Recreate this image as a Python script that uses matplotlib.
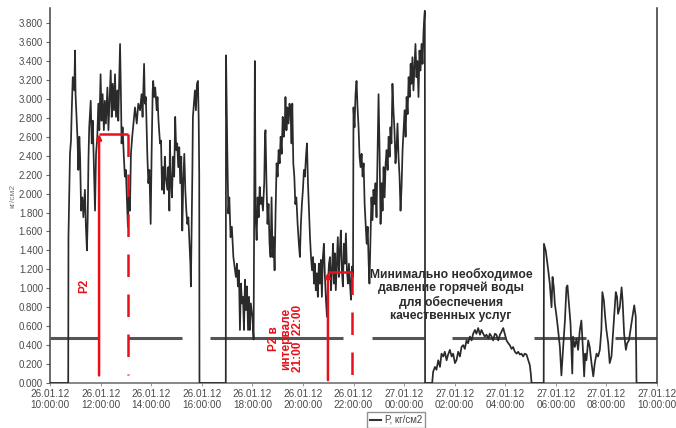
import matplotlib
matplotlib.use("Agg")
import matplotlib.pyplot as plt
from matplotlib.lines import Line2D

plt.rcParams['font.family'] = ['Liberation Sans', 'DejaVu Sans']

# ---- data: hours after 26.01.12 10:00, pressure kgf/cm2 ----
seg_a = [(0.00,0.00),(0.72,0.00),(0.73,1.54),(0.79,2.42),(0.83,2.56),(0.86,2.88),(0.90,3.23),(0.96,3.09),(0.99,3.51),(1.01,3.05),(1.05,2.81),(1.09,2.56),(1.12,2.25),(1.16,2.60),(1.19,2.39),(1.23,1.82),(1.28,1.96),(1.32,1.75),(1.38,2.04),(1.42,1.65),(1.46,1.40),(1.49,1.72),(1.52,2.35),(1.55,2.70),(1.61,2.98),(1.65,2.53),(1.69,2.77),(1.74,2.25),(1.78,1.82),(1.82,2.42),(1.87,2.60),(1.91,2.95),(1.95,2.67),(2.00,3.26),(2.04,2.77),(2.08,3.05),(2.13,2.67),(2.17,2.98),(2.21,2.74),(2.27,3.12),(2.31,2.67),(2.35,2.95),(2.40,3.30),(2.44,2.81),(2.48,3.16),(2.53,2.88),(2.57,3.26),(2.61,2.81),(2.66,3.09),(2.70,2.77),(2.77,3.58),(2.81,2.95),(2.83,2.53),(2.87,2.70),(2.92,2.39),(2.96,2.18),(3.00,2.25),(3.04,1.96),(3.08,1.65),(3.12,2.04),(3.16,1.82),(3.20,2.42),(3.25,2.60),(3.31,2.77),(3.36,2.91),(3.43,2.74),(3.49,2.95),
         (3.56,2.88),(3.62,3.05),(3.66,2.81),(3.72,3.37),(3.75,2.95),(3.79,3.02),(3.82,2.70),(3.85,2.39),(3.89,2.11),(3.93,2.25),(3.98,1.68),(4.02,2.46),(4.06,3.09),(4.08,3.19),(4.12,3.02),(4.16,3.12),(4.22,2.88),(4.25,3.02),(4.29,2.77),(4.35,2.53),(4.39,2.56),(4.43,2.04),(4.47,2.28),(4.51,2.00),(4.54,2.39),(4.58,2.18),(4.64,2.04),(4.68,2.28),(4.72,1.82),(4.74,2.56),(4.78,2.14),(4.82,1.96),(4.87,2.39),(4.91,2.18),(4.95,2.81),(4.99,2.46),(5.03,2.53),(5.07,2.28),(5.11,2.49),(5.15,2.11),(5.19,2.39),(5.23,1.61),(5.27,2.14),(5.31,2.42),(5.35,2.04),(5.39,1.82),(5.43,1.68),(5.47,1.75),(5.51,1.51),(5.55,1.26),(5.57,1.02),(5.60,1.61),(5.63,2.25),(5.65,2.81),(5.69,2.95),(5.73,3.09),(5.77,2.88),(5.81,3.16),(5.85,3.19),(5.88,2.77),(5.90,2.21),(5.91,0.00)]

seg_b = [(6.95,0.00),(6.96,3.46),(7.01,2.46),(7.05,1.79),(7.09,1.96),(7.14,1.54),(7.19,1.65),(7.25,1.33),(7.35,1.12),(7.39,1.26),(7.43,1.02),(7.47,1.19),(7.51,0.56),(7.55,1.05),(7.59,0.84),(7.63,0.91),(7.67,0.56),(7.71,1.09),(7.75,0.77),(7.79,1.02),(7.83,0.56),(7.87,0.91),(7.90,0.56),(7.94,0.84),(8.00,0.70),(8.05,0.46),(8.10,3.40),(8.13,1.75),(8.17,1.51),(8.21,1.96),(8.25,1.75),(8.29,2.07),(8.33,1.89),(8.37,1.96),(8.42,1.82),(8.47,2.11),(8.50,2.60),(8.52,2.67),(8.56,2.11),(8.60,1.68),(8.64,1.89),(8.68,1.47),(8.72,1.33),(8.76,1.96),(8.80,1.33),(8.84,1.54),(8.88,1.19),(8.92,1.82),(8.96,2.32),(9.00,2.18),(9.04,2.46),(9.08,2.32),(9.12,2.60),(9.16,2.42),(9.20,2.81),(9.24,2.60),(9.28,2.70),(9.31,3.02),(9.35,2.67),(9.39,2.91),(9.43,2.74),(9.47,2.95),(9.51,2.88),(9.55,2.53),(9.58,2.95),(9.62,2.32),(9.66,2.18),(9.70,1.89),(9.74,1.96),(9.79,1.68),(9.84,1.47),(9.88,1.33),(9.92,1.68),(9.96,1.89),(10.00,2.04),(10.04,2.25),(10.08,2.18),(10.12,2.39),(10.16,2.53),(10.20,2.11),(10.24,1.82),(10.28,1.54),(10.32,1.33),(10.36,1.19),(10.40,1.33),(10.44,1.05),(10.47,1.26),(10.51,0.98),(10.55,1.16),(10.59,0.91),(10.63,1.26),(10.67,1.05),(10.71,1.30),(10.75,0.91),(10.79,1.33),(10.83,1.47),(10.87,1.12),(10.91,0.88),(10.95,0.70),(10.99,1.05),(11.03,1.26),
         (11.07,1.33),(11.11,0.98),(11.15,1.19),(11.19,1.47),(11.23,1.05),(11.26,1.37),(11.30,0.98),(11.34,1.26),(11.38,1.54),(11.42,1.12),(11.46,1.40),(11.50,1.61),(11.54,1.19),(11.58,1.02),(11.62,1.47),(11.66,1.26),(11.70,1.58),(11.74,1.19),(11.78,1.05),(11.82,1.26),(11.86,1.05),(11.90,0.88),(11.94,1.23),(11.98,1.12),(12.00,2.91),(12.04,2.70),(12.08,3.05),(12.12,3.19),(12.16,2.91),(12.20,2.70),(12.24,2.39),(12.28,2.28),(12.32,2.42),(12.36,2.18),(12.40,2.32),(12.44,1.89),(12.48,1.68),(12.52,1.47),(12.56,1.65),(12.60,1.26),(12.63,1.05),(12.67,1.51),(12.71,1.96),(12.75,1.72),(12.79,2.04),(12.83,1.89),(12.87,2.11),(12.91,1.75),(12.95,2.39),(12.99,3.05),(13.03,2.46),(13.07,1.68),(13.11,2.11),(13.15,1.82),(13.19,2.28),(13.23,1.96),(13.27,2.32),(13.31,2.46),(13.35,2.25),(13.39,2.60),(13.43,2.39),(13.46,2.70),(13.50,2.53),(13.54,3.16),(13.58,2.88),(13.62,2.67),(13.66,2.32),(13.70,2.46),(13.74,2.74),(13.78,2.39),(13.82,2.18),(13.86,1.82),(13.90,2.07),(13.94,2.46),(13.98,2.67),(14.02,2.88),(14.06,2.60),(14.10,3.02),(14.14,2.84),(14.18,3.23),(14.22,3.02),(14.26,3.37),(14.29,3.16),(14.33,3.44),(14.37,3.09),(14.41,3.33),(14.45,3.58),(14.49,3.23),(14.53,3.40),(14.57,3.02),(14.61,3.51),(14.65,3.30),(14.69,3.58),(14.73,3.37),(14.77,3.72),(14.80,3.86),(14.82,3.93),(14.83,0.00)]

seg_c = [(15.11,0.00),(15.15,0.12),(15.22,0.17),(15.28,0.14),(15.35,0.24),(15.42,0.17),(15.48,0.31),(15.55,0.28),(15.61,0.33),(15.68,0.24),(15.74,0.30),(15.81,0.35),(15.88,0.28),(15.94,0.31),(16.01,0.21),(16.07,0.24),(16.14,0.33),(16.21,0.28),(16.27,0.38),(16.34,0.40),(16.40,0.36),(16.47,0.45),(16.53,0.42),(16.60,0.49),(16.67,0.45),(16.73,0.52),(16.80,0.56),(16.86,0.52),(16.93,0.58),(17.00,0.51),(17.06,0.56),(17.13,0.52),(17.19,0.49),(17.26,0.51),(17.33,0.47),(17.39,0.52),(17.46,0.49),(17.52,0.45),(17.59,0.52),(17.65,0.51),(17.72,0.45),(17.79,0.51),(17.85,0.54),(17.92,0.58),(17.98,0.52),(18.05,0.45),(18.12,0.42),(18.18,0.40),(18.25,0.36),(18.31,0.38),(18.38,0.33),(18.45,0.31),(18.51,0.33),(18.58,0.30),(18.64,0.31),(18.71,0.28),(18.77,0.31),(18.84,0.30),(18.91,0.24),(18.97,0.19),(19.01,0.10),(19.04,0.00)]

seg_d = [(19.52,0.00),(19.53,1.47),(19.60,1.40),(19.70,1.19),(19.76,1.05),(19.83,0.80),(19.87,1.12),(19.92,1.01),(19.96,0.84),(20.03,0.70),(20.09,0.56),(20.16,0.38),(20.22,0.08),(20.29,0.38),(20.36,0.66),(20.42,1.01),(20.46,1.03),(20.53,0.80),(20.58,0.63),(20.65,0.10),(20.68,0.49),(20.75,0.38),(20.82,0.47),(20.88,0.35),(20.95,0.56),(21.01,0.66),(21.08,0.31),(21.12,0.07),(21.16,0.31),(21.21,0.24),(21.28,0.45),(21.34,0.38),(21.41,0.21),(21.48,0.07),(21.54,0.21),(21.61,0.31),(21.67,0.28),(21.74,0.35),(21.80,0.56),(21.84,0.96),(21.90,0.87),(21.95,0.70),(22.00,0.56),(22.07,0.42),(22.13,0.21),(22.20,0.28),(22.27,0.56),(22.33,0.80),(22.37,0.96),(22.42,0.91),(22.46,0.73),(22.53,0.80),(22.60,1.01),(22.64,0.87),(22.70,0.52),(22.77,0.35),(22.82,0.42),(22.89,0.45),(22.95,0.56),(23.03,0.70),(23.10,0.82),(23.16,0.70),(23.19,0.00),(24.00,0.00)]

# minimum required pressure (drawn as a broken line)
min_pressure = 0.48
min_starts = [0.00, 3.08, 6.32, 12.73, 15.89, 19.13, 22.33]
min_ends = [1.90, 5.22, 11.58, 14.78, 17.98, 21.19, 24.00]

# P2 markers (start hour, end hour, level)
p2_start = [1.94, 10.99]
p2_end = [3.08, 11.94]
p2_level = [2.63, 1.17]
p2_bottom = [0.08, 0.03]

x_ticks = [0, 2, 4, 6, 8, 10, 12, 14, 16, 18, 20, 22, 24]
x_tick_labels = ["26.01.12\n10:00:00", "26.01.12\n12:00:00", "26.01.12\n14:00:00",
                 "26.01.12\n16:00:00", "26.01.12\n18:00:00", "26.01.12\n20:00:00",
                 "26.01.12\n22:00:00", "27.01.12\n00:00:00", "27.01.12\n02:00:00",
                 "27.01.12\n04:00:00", "27.01.12\n06:00:00", "27.01.12\n08:00:00",
                 "27.01.12\n10:00:00"]
y_ticks = [0.0, 0.2, 0.4, 0.6, 0.8, 1.0, 1.2, 1.4, 1.6, 1.8, 2.0, 2.2, 2.4, 2.6,
           2.8, 3.0, 3.2, 3.4, 3.6, 3.8]

# ---- figure ----
W, H = 676, 428
fig = plt.figure(figsize=(W / 100, H / 100), dpi=100)
ax = fig.add_axes([50 / W, 1 - 383 / H, 607 / W, 375 / H])

points = seg_a + seg_b + seg_c + seg_d
t = [p[0] for p in points]
v = [p[1] for p in points]

grey_line = '#555555'
for s, e in zip(min_starts, min_ends):
    ax.plot([s, e], [min_pressure, min_pressure], color=grey_line, lw=2.2,
            solid_capstyle='butt', zorder=2)

data_line, = ax.plot(t, v, color='#2a2a2a', lw=1.25, zorder=3)

red = '#e8101a'
for s, e, lv, b in zip(p2_start, p2_end, p2_level, p2_bottom):
    ax.annotate('', xy=(s, lv), xytext=(s, b),
                arrowprops=dict(arrowstyle='-|>', color=red, lw=1.8,
                                mutation_scale=7, shrinkA=0, shrinkB=0),
                zorder=5)
    ax.plot([s, e], [lv, lv], color=red, lw=1.8, zorder=5, solid_capstyle='butt')
    ax.plot([e, e], [lv, b], color=red, lw=1.8, zorder=5, dashes=(9, 7))

ax.text(1.34, 1.03, "P2", color=red, fontsize=8.5, fontweight='bold',
        rotation=90, ha='center', va='center', zorder=6)
ax.text(9.33, 0.47, "P2 в\nинтервале\n21:00  22:00", color=red, fontsize=8.5,
        fontweight='bold', rotation=90, ha='center', va='center',
        multialignment='center', linespacing=1.05, zorder=6)
ax.text(15.85, 0.93, "Минимально необходимое\nдавление горячей воды\nдля обеспечения\nкачественных услуг",
        color='#2b2b2b', fontsize=8.7, fontweight='bold', ha='center', va='center',
        multialignment='center', linespacing=1.15, zorder=6)

ax.set_xlim(0, 24)
ax.set_ylim(0, 3.96)
ax.set_xticks(x_ticks)
ax.set_xticklabels(x_tick_labels, fontsize=7.2, color='#4a4a4a', linespacing=1.2)
ax.set_yticks(y_ticks)
ax.set_yticklabels([f"{y:.3f}" for y in y_ticks], fontsize=7, color='#4a4a4a')
ax.tick_params(axis='y', length=3, width=0.8, color='#666666', pad=2)
ax.tick_params(axis='x', length=2, width=0.6, color='#888888', pad=2)
ax.set_ylabel("кг/см2", fontsize=6, color='#777777', labelpad=2)

ax.spines['top'].set_visible(False)
ax.spines['left'].set_color('#444444')
ax.spines['bottom'].set_color('#666666')
ax.spines['right'].set_color('#333333')
for side in ['left', 'bottom', 'right']:
    ax.spines[side].set_linewidth(1.1)

handle = Line2D([], [], color='#333333', lw=1.5)
fig.legend([handle], ["Р, кг/см2"], loc='center',
           bbox_to_anchor=(396 / W, 1 - 420 / H), fontsize=7, frameon=True,
           fancybox=False, edgecolor='#777777', handlelength=1.2,
           handletextpad=0.4, borderpad=0.3, labelcolor='#444444')

fig.savefig("out.png", dpi=100)
